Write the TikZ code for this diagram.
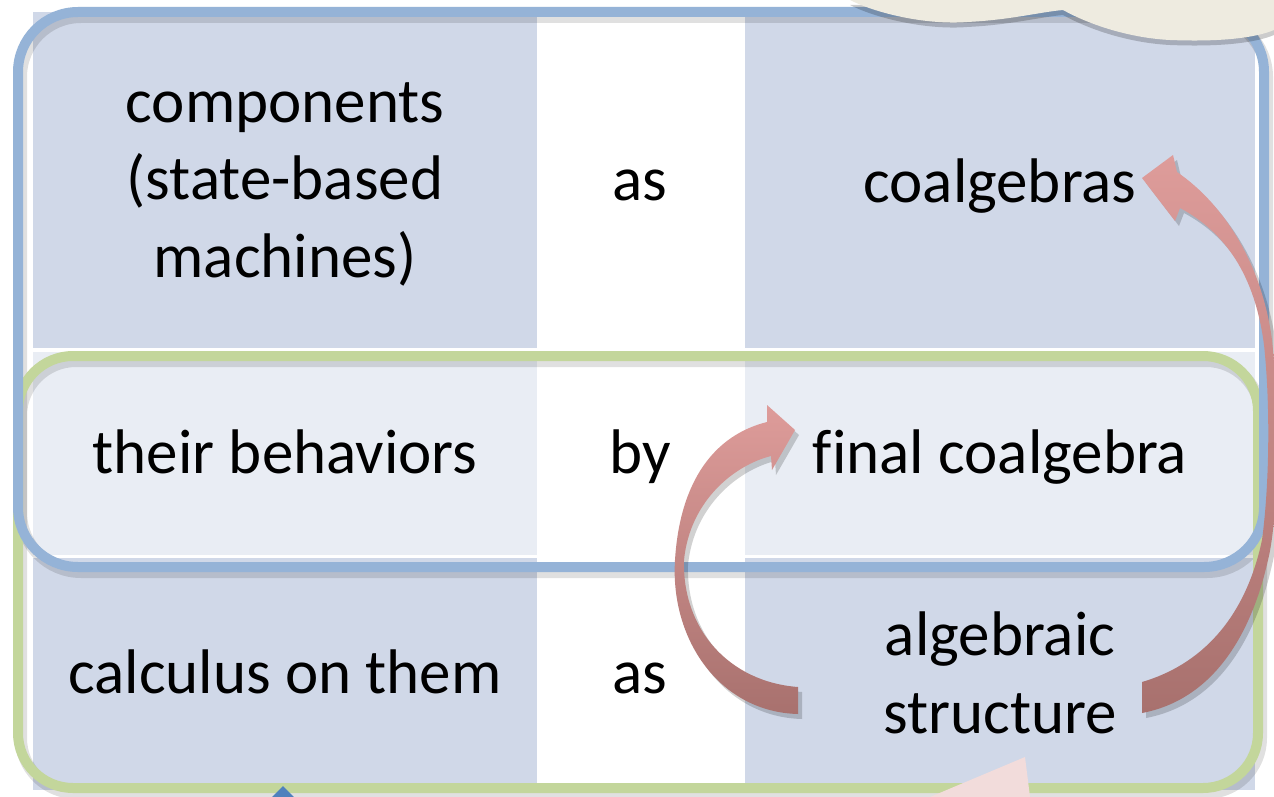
\documentclass[tikz,border=0pt]{standalone}
\usepackage{fontspec}
\setmainfont{Carlito}[Ligatures=CommonOff]
\definecolor{bandA}{HTML}{D0D8E8}
\definecolor{bandB}{HTML}{E9EDF4}
\definecolor{bluel}{HTML}{95B3D7}
\definecolor{greenl}{HTML}{C3D69B}
\definecolor{cream}{HTML}{EEEBE0}
\definecolor{arrtop}{HTML}{DE9C9A}
\definecolor{arrbot}{HTML}{A8716E}
\definecolor{pinkt}{HTML}{F2DCDB}
\definecolor{bluet}{HTML}{4F81BD}
\begin{document}
\begin{tikzpicture}[x=1pt,y=-1pt,
  txt/.style={font=\fontsize{63}{77.5}\selectfont, align=center, inner sep=0pt},
  cellA/.style={fill=bandA},
  cellB/.style={fill=bandB},
  frameshadow/.style={draw=black, opacity=0.12, line width=12pt},
  arrshadow/.style={fill=black, opacity=0.18}]
\useasboundingbox (0,0) rectangle (1274,797);
\fill[white] (0,0) rectangle (1274,797);
% table cells
\fill[cellA] (33,12) rectangle (537,348);
\fill[cellA] (745,12) rectangle (1255,348);
\fill[cellB] (33,352) rectangle (537,555);
\fill[cellB] (745,352) rectangle (1255,555);
\fill[cellA] (33,558) rectangle (537,790);
\fill[cellA] (745,558) rectangle (1255,790);
% frame shadows
\begin{scope}[shift={(3,5)}]
\draw[frameshadow, rounded corners=55pt] (18,356) rectangle (1258,788);
\draw[frameshadow, rounded corners=60pt] (18,12) rectangle (1264,567);
\end{scope}
% frames
\draw[greenl, line width=10pt, rounded corners=55pt] (18,356) rectangle (1258,788);
\draw[bluel, line width=10pt, rounded corners=60pt] (18,12) rectangle (1264,567);
% texts
\node[txt] (c1) at (285,184) {components\\(state-based\\machines)};
\node[txt, anchor=base] (a1) at (640,200) {as};
\node[txt, anchor=base] (coal) at (1000,202) {coalgebras};
\node[txt, anchor=base] (beh) at (285,473) {their behaviors};
\node[txt, anchor=base] (by) at (640,473) {by};
\node[txt, anchor=base] (fin) at (1000,473) {final coalgebra};
\node[txt, anchor=base] (calc) at (285,693) {calculus on them};
\node[txt, anchor=base] (a3) at (640,693) {as};
\node[txt] (alg) at (1000,673) {algebraic\\structure};
% arrow 1 : algebraic structure -> final coalgebra
\def\arrowone{(798,714) .. controls (720,712) and (670,640) .. (675,560)
  .. controls (680,480) and (715,435) .. (767,422)
  -- (767,405) -- (795,430) -- (772,470) -- (771,456)
  .. controls (735,465) and (690,500) .. (684,560)
  .. controls (682,630) and (730,682) .. (798,687) -- cycle}
% arrow 2 : algebraic structure -> coalgebras
\def\arrowtwo{(1177,172) .. controls (1225,205) and (1262,265) .. (1272,340)
  .. controls (1280,420) and (1278,520) .. (1268,560)
  .. controls (1250,640) and (1210,700) .. (1142,713)
  -- (1142,682)
  .. controls (1200,665) and (1245,620) .. (1262,540)
  .. controls (1270,480) and (1270,400) .. (1264,345)
  .. controls (1255,275) and (1225,232) .. (1180,208)
  -- (1175,221) -- (1142,178) -- (1173,155) -- cycle}
\begin{scope}[shift={(4,5)}]
\fill[arrshadow] \arrowone;
\fill[arrshadow] \arrowtwo;
\end{scope}
\shade[top color=arrtop, bottom color=arrbot] \arrowone;
\shade[top color=arrtop, bottom color=arrbot] \arrowtwo;
% cream shape top right
\begin{scope}[shift={(0,5)}]
\fill[black, opacity=0.2] (850,0) .. controls (880,15) and (930,25) .. (967,22)
  .. controls (1010,20) and (1040,12) .. (1063,10)
  .. controls (1090,25) and (1130,38) .. (1170,40)
  .. controls (1220,42) and (1255,38) .. (1274,30) -- (1274,0) -- cycle;
\end{scope}
\fill[cream] (850,0) .. controls (880,15) and (930,25) .. (967,22)
  .. controls (1010,20) and (1040,12) .. (1063,10)
  .. controls (1090,25) and (1130,38) .. (1170,40)
  .. controls (1220,42) and (1255,38) .. (1274,30) -- (1274,0) -- cycle;
% bottom fragments
\fill[bluet] (272,797) -- (283,786) -- (294,797) -- cycle;
\fill[pinkt] (930,797) -- (1025,757) -- (1030,797) -- cycle;
\end{tikzpicture}
\end{document}
